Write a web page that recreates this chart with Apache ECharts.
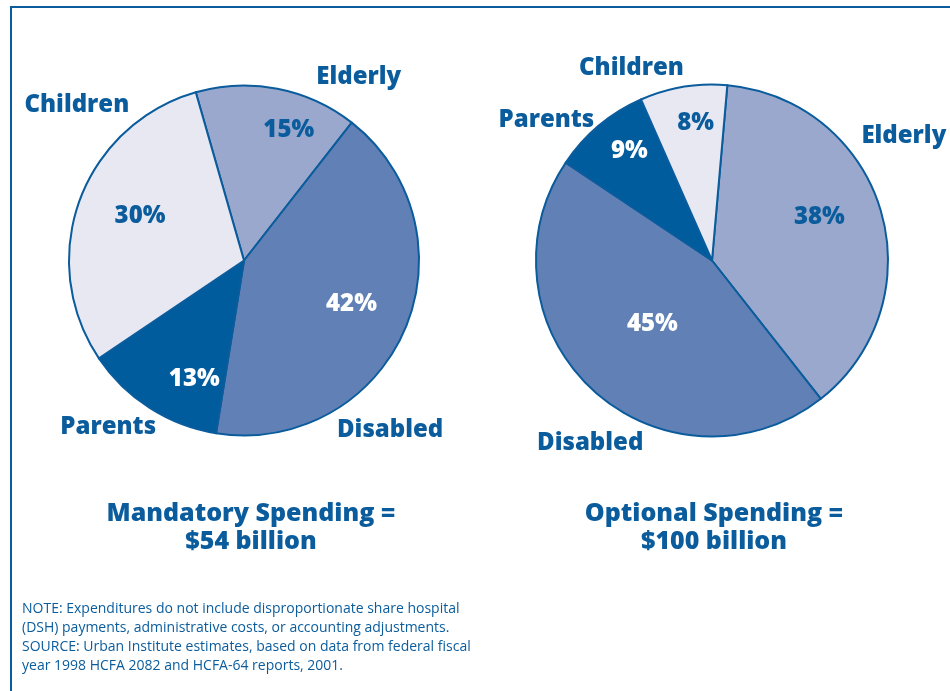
<!DOCTYPE html>
<html>
<head>
<meta charset="utf-8">
<script src="https://cdn.jsdelivr.net/npm/echarts@6/dist/echarts.min.js"></script>
<style>
  html, body { margin: 0; padding: 0; background: #ffffff; }
  #chart { width: 950px; height: 691px; }
</style>
</head>
<body>
<div id="chart"></div>
<script>
// Slice order, clockwise from each pie's start angle
const categories = ['Elderly', 'Disabled', 'Parents', 'Children'];
// Share of spending (%) by group
const mandatoryShares = [15, 42, 13, 30];
const optionalShares = [38, 45, 9, 8];
const pieTitles = ['Mandatory Spending =\n$54 billion', 'Optional Spending =\n$100 billion'];
const noteLines = [
  'NOTE: Expenditures do not include disproportionate share hospital',
  '(DSH) payments, administrative costs, or accounting adjustments.',
  'SOURCE: Urban Institute estimates, based on data from federal fiscal',
  'year 1998 HCFA 2082 and HCFA-64 reports, 2001.'
];

// ---- styling / layout ----
const BLUE = '#0a5c9c';
const sliceColors = ['#99a8cc', '#6180b5', '#005c9d', '#e8e8f3'];
const pctColors = [BLUE, '#ffffff', '#ffffff', BLUE];
const FONT = '"Open Sans", "DejaVu Sans", sans-serif';
const HEAVY = 800;

const pies = [
  { cx: 244, cy: 260.5, r: 175, startAngle: 106, values: mandatoryShares,
    // label anchors, in units of the radius, relative to the centre
    pct:  [[0.256, -0.747], [0.614, 0.247], [-0.284, 0.679], [-0.594, -0.253]],
    name: [[0.656, -1.048], [0.835, 0.969], [-0.776, 0.952], [-0.955, -0.889]],
    titleX: 251 },
  { cx: 712, cy: 260.5, r: 176, startAngle: 85, values: optionalShares,
    pct:  [[0.610, -0.246], [-0.339, 0.359], [-0.469, -0.619], [-0.093, -0.782]],
    name: [[1.090, -0.709], [-0.692, 1.037], [-0.941, -0.799], [-0.458, -1.093]],
    titleX: 714 }
];

function anchorLayout(p, anchors) {
  return function (params) {
    const a = anchors[params.dataIndex];
    return { x: p.cx + a[0] * p.r, y: p.cy + a[1] * p.r, align: 'center', verticalAlign: 'middle' };
  };
}

const series = [];
pies.forEach(function (p) {
  // visible slices with percentage labels
  series.push({
    type: 'pie',
    center: [p.cx, p.cy],
    radius: [0, p.r],
    startAngle: p.startAngle,
    clockwise: true,
    avoidLabelOverlap: false,
    silent: true,
    z: 2,
    data: categories.map(function (c, i) {
      return {
        name: c, value: p.values[i],
        itemStyle: { color: sliceColors[i] },
        label: { color: pctColors[i] }
      };
    }),
    itemStyle: { borderColor: BLUE, borderWidth: 2 },
    label: {
      show: true, position: 'inside',
      formatter: '{c}%',
      fontFamily: FONT, fontWeight: HEAVY, fontSize: 24
    },
    labelLine: { show: false },
    labelLayout: anchorLayout(p, p.pct)
  });
  // transparent overlay carrying the group names around the pie
  series.push({
    type: 'pie',
    center: [p.cx, p.cy],
    radius: [0, p.r],
    startAngle: p.startAngle,
    clockwise: true,
    avoidLabelOverlap: false,
    silent: true,
    z: 3,
    data: categories.map(function (c, i) { return { name: c, value: p.values[i] }; }),
    itemStyle: { color: 'rgba(0,0,0,0)', borderWidth: 0 },
    label: {
      show: true, position: 'outside',
      formatter: '{b}', color: BLUE,
      fontFamily: FONT, fontWeight: HEAVY, fontSize: 24
    },
    labelLine: { show: false },
    labelLayout: anchorLayout(p, p.name)
  });
});

const graphics = [
  // frame (top and left edges visible)
  { type: 'rect', shape: { x: 11, y: 7, width: 1200, height: 1200 },
    style: { fill: 'none', stroke: BLUE, lineWidth: 2 }, silent: true }
];
pies.forEach(function (p, i) {
  graphics.push({
    type: 'text', x: p.titleX, y: 500,
    style: {
      text: pieTitles[i], fill: BLUE, align: 'center', verticalAlign: 'top',
      font: HEAVY + ' 25px ' + FONT, lineHeight: 28
    }
  });
});
graphics.push({
  type: 'text', x: 22, y: 600,
  style: {
    text: noteLines.join('\n'), fill: BLUE, align: 'left', verticalAlign: 'top',
    font: '14px ' + FONT, lineHeight: 19
  }
});

const chart = echarts.init(document.getElementById('chart'), null, { renderer: 'canvas' });
chart.setOption({
  animation: false,
  backgroundColor: '#ffffff',
  series: series,
  graphic: graphics
});
</script>
</body>
</html>
